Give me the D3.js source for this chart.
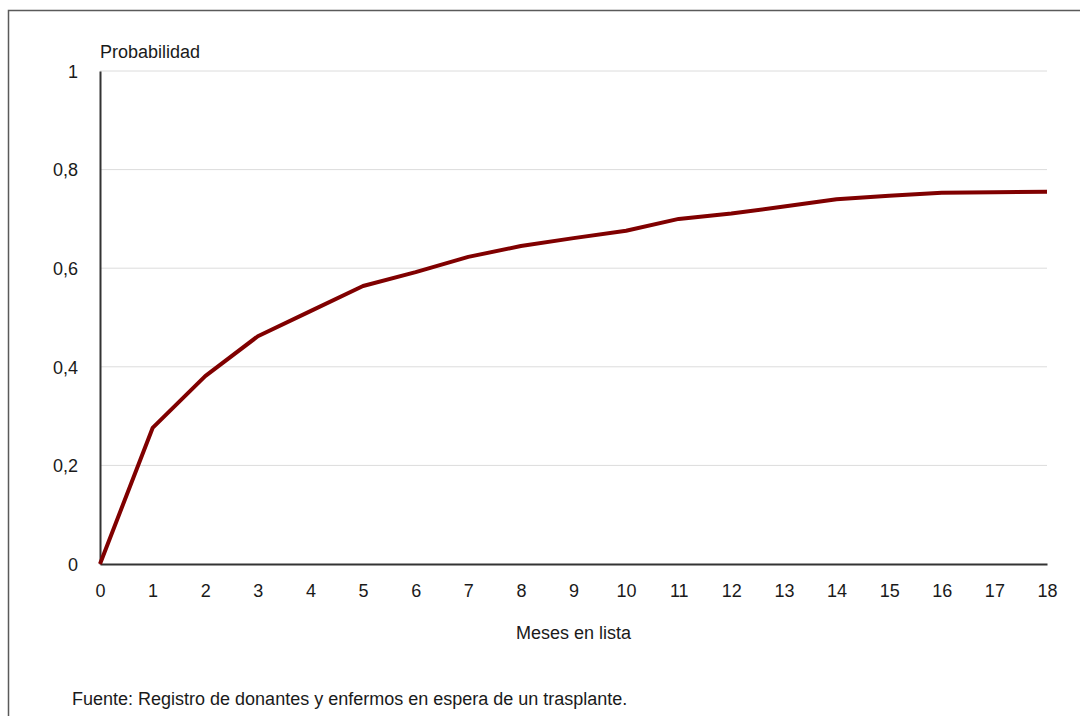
<!DOCTYPE html>
<html>
<head>
<meta charset="utf-8">
<script src="https://cdn.jsdelivr.net/npm/d3@7/dist/d3.min.js"></script>
<style>
  html, body { margin: 0; padding: 0; background: #fff; }
  svg { display: block; }
  text { font-family: "Liberation Sans Narrow", "Arial Narrow", "Liberation Sans", Arial, sans-serif; fill: #1a1a1a; }
</style>
</head>
<body>
<svg id="chart" width="1080" height="716"></svg>
<script>
// Months on the waiting list and cumulative probability of transplant
const months = [0, 1, 2, 3, 4, 5, 6, 7, 8, 9, 10, 11, 12, 13, 14, 15, 16, 17, 18];
const probability = [0, 0.276, 0.381, 0.462, 0.513, 0.564, 0.592, 0.623, 0.645, 0.661, 0.676,
                     0.700, 0.711, 0.725, 0.740, 0.747, 0.753, 0.754, 0.755];
const yTicks = [0, 0.2, 0.4, 0.6, 0.8, 1];
const yTickLabels = ["0", "0,2", "0,4", "0,6", "0,8", "1"];
const yTitle = "Probabilidad";
const xTitle = "Meses en lista";
const sourceNote = "Fuente: Registro de donantes y enfermos en espera de un trasplante.";

const svg = d3.select("#chart");
const plotLeft = 100, plotRight = 1047, plotTop = 71, plotBottom = 564;
const fontSize = "18px";

// Outer frame (top and left edges visible, running off the page)
svg.append("rect")
  .attr("x", 8.5).attr("y", 10.5)
  .attr("width", 1200).attr("height", 1000)
  .attr("fill", "none").attr("stroke", "#5a5a5a").attr("stroke-width", 1.5);

const x = d3.scaleLinear().domain([0, 18]).range([plotLeft, plotRight]);
const y = d3.scaleLinear().domain([0, 1]).range([plotBottom, plotTop]);

// Horizontal gridlines
svg.append("g")
  .selectAll("line")
  .data(yTicks.filter(d => d > 0))
  .join("line")
  .attr("x1", plotLeft).attr("x2", plotRight)
  .attr("y1", d => y(d)).attr("y2", d => y(d))
  .attr("stroke", "#dcdcdc").attr("stroke-width", 1);

// Y axis
const yAxis = d3.axisLeft(y)
  .tickValues(yTicks)
  .tickFormat((d, i) => yTickLabels[i])
  .tickSize(0).tickPadding(22);
const gy = svg.append("g").attr("transform", `translate(${plotLeft},0)`).call(yAxis);
gy.select(".domain").attr("stroke", "#333").attr("stroke-width", 2);
gy.selectAll("text").style("font-size", fontSize).attr("dy", "0.35em")
  .attr("fill", "#1a1a1a");

// X axis
const xAxis = d3.axisBottom(x)
  .tickValues(months)
  .tickFormat(d3.format("d"))
  .tickSize(0).tickPadding(20);
const gx = svg.append("g").attr("transform", `translate(0,${plotBottom})`).call(xAxis);
gx.select(".domain").attr("stroke", "#333").attr("stroke-width", 2);
gx.selectAll("text").style("font-size", fontSize).attr("fill", "#1a1a1a");

// Probability curve
const line = d3.line()
  .x((d, i) => x(months[i]))
  .y(d => y(d));
svg.append("path")
  .datum(probability)
  .attr("d", line)
  .attr("fill", "none")
  .attr("stroke", "#800000")
  .attr("stroke-width", 4)
  .attr("stroke-linejoin", "round");

// Titles and note
svg.append("text").attr("x", plotLeft).attr("y", 58)
  .style("font-size", fontSize).text(yTitle);
svg.append("text").attr("x", (plotLeft + plotRight) / 2).attr("y", 639)
  .attr("text-anchor", "middle").style("font-size", fontSize).text(xTitle);
svg.append("text").attr("x", 72).attr("y", 705)
  .style("font-size", fontSize).text(sourceNote);
</script>
</body>
</html>
